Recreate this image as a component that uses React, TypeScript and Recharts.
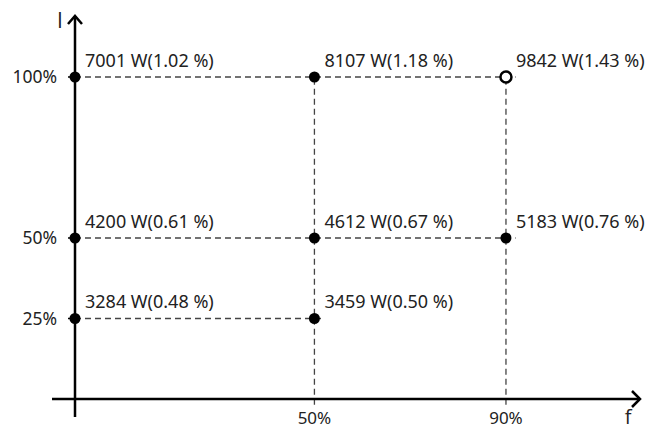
import React from "react";
import { ScatterChart, Scatter, XAxis, YAxis, ReferenceLine } from "recharts";

// Data
const fValues = [0, 50, 90, 0, 50, 90, 0, 50]; // % of frequency (x)
const iValues = [100, 100, 100, 50, 50, 50, 25, 25]; // % of current (y)
const powerW = [7001, 8107, 9842, 4200, 4612, 5183, 3284, 3459];
const powerPct = [1.02, 1.18, 1.43, 0.61, 0.67, 0.76, 0.48, 0.5];
const openPoint = [false, false, true, false, false, false, false, false];

const xTicks = [50, 90];
const yTicks = [25, 50, 100];
const xDomain: [number, number] = [0, 118.2];
const yDomain: [number, number] = [0, 119.25];

const points = fValues.map((f, i) => ({
  f,
  i: iValues[i],
  label: `${powerW[i]} W(${powerPct[i].toFixed(2)} %)`,
  open: openPoint[i],
}));

const rowLevels = Array.from(new Set(iValues));
const colLevels = Array.from(new Set(fValues)).filter((v) => v > 0);
const rowEnds = rowLevels.map((lvl) => Math.max(...points.filter((p) => p.i === lvl).map((p) => p.f)));
const colEnds = colLevels.map((lvl) => Math.max(...points.filter((p) => p.f === lvl).map((p) => p.i)));

const FONT = "Noto Sans, Open Sans, sans-serif";
const TEXT = "#222";

const PointShape = (props: any) => {
  const { cx, cy, payload } = props;
  return (
    <g>
      {payload.open ? (
        <circle cx={cx} cy={cy} r={5.5} fill="#fff" stroke="#000" strokeWidth={2.5} />
      ) : (
        <circle cx={cx} cy={cy} r={5.5} fill="#000" />
      )}
      <text x={cx + 10} y={cy - 10} style={{ fontFamily: FONT, fontSize: 18 }} fill={TEXT}>
        {payload.label}
      </text>
    </g>
  );
};

const axisShape = (dir: "x" | "y", letter: string) => (props: any) => {
  const { x1, y1, x2, y2 } = props;
  if (dir === "y") {
    const ax = x2;
    const top = Math.min(y1, y2);
    const bottom = Math.max(y1, y2);
    return (
      <g>
        <line x1={ax} y1={bottom} x2={ax} y2={top + 1} stroke="#000" strokeWidth={2.5} />
        <polyline
          points={`${ax - 7},${top + 9} ${ax},${top + 1} ${ax + 7},${top + 9}`}
          fill="none"
          stroke="#000"
          strokeWidth={2.5}
        />
        <text x={ax - 15} y={top + 13} textAnchor="middle" style={{ fontFamily: "Open Sans, Noto Sans, sans-serif", fontSize: 21 }} fill={TEXT}>
          {letter}
        </text>
      </g>
    );
  }
  const ay = y2;
  const left = Math.min(x1, x2);
  const right = Math.max(x1, x2);
  return (
    <g>
      <line x1={left} y1={ay} x2={right - 1} y2={ay} stroke="#000" strokeWidth={2.5} />
      <polyline
        points={`${right - 9},${ay - 8} ${right - 1},${ay} ${right - 9},${ay + 8}`}
        fill="none"
        stroke="#000"
        strokeWidth={2.5}
      />
      <text x={right - 13} y={ay + 25} textAnchor="middle" style={{ fontFamily: "Open Sans, Noto Sans, sans-serif", fontSize: 20 }} fill={TEXT}>
        {letter}
      </text>
    </g>
  );
};

export default function App() {
  return (
    <div style={{ position: "absolute", left: 0, top: 0, width: 665, height: 429, background: "#fff" }}>
      <ScatterChart width={665} height={429} margin={{ top: 15, right: 24, bottom: 0, left: 0 }}>
        <XAxis
          type="number"
          dataKey="f"
          domain={xDomain}
          ticks={xTicks}
          tickFormatter={(v: number) => `${v}%`}
          axisLine={false}
          tickLine={false}
          tickSize={0}
          tickMargin={13}
          height={30}
          tick={{ fontFamily: FONT, fontSize: 17, fill: TEXT }}
          interval={0}
        />
        <YAxis
          type="number"
          dataKey="i"
          domain={yDomain}
          ticks={yTicks}
          tickFormatter={(v: number) => `${v}%`}
          axisLine={false}
          tickLine={{ stroke: "#000", strokeWidth: 1.5 }}
          tickSize={7}
          tickMargin={11}
          width={75}
          tick={{ fontFamily: FONT, fontSize: 17.5, fill: TEXT }}
          interval={0}
        />
        {rowLevels.map((lvl, k) => (
          <ReferenceLine
            key={`h${k}`}
            segment={[
              { x: 0, y: lvl },
              { x: rowEnds[k] + 2, y: lvl },
            ]}
            stroke="#444"
            strokeWidth={1.3}
            strokeDasharray="6 4"
            ifOverflow="visible"
          />
        ))}
        {colLevels.map((lvl, k) => (
          <ReferenceLine
            key={`v${k}`}
            segment={[
              { x: lvl, y: -1.8 },
              { x: lvl, y: colEnds[k] },
            ]}
            stroke="#444"
            strokeWidth={1.3}
            strokeDasharray="6 4"
            ifOverflow="visible"
          />
        ))}
        <ReferenceLine
          segment={[
            { x: 0, y: -5.6 },
            { x: 0, y: 119.25 },
          ]}
          ifOverflow="visible"
          shape={axisShape("y", "I")}
        />
        <ReferenceLine
          segment={[
            { x: -4.8, y: 0 },
            { x: 118.2, y: 0 },
          ]}
          ifOverflow="visible"
          shape={axisShape("x", "f")}
        />
        <Scatter data={points} isAnimationActive={false} shape={PointShape} />
      </ScatterChart>
    </div>
  );
}
